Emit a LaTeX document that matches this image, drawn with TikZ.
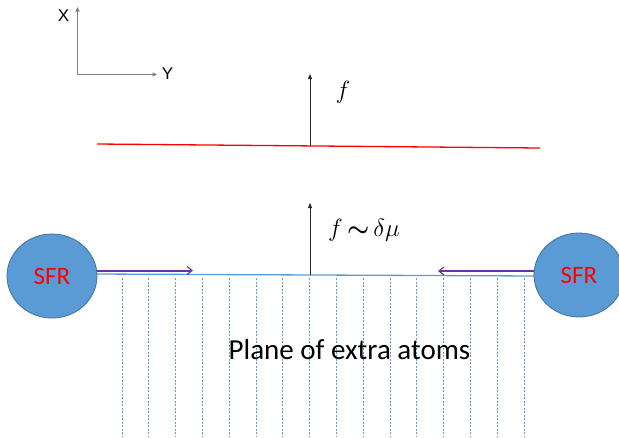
\documentclass[tikz,border=0pt]{standalone}
\usepackage{amsmath}
\usepackage{fontspec}
\setmainfont{Carlito}
\newfontfamily\arialf{Liberation Sans}
\usetikzlibrary{arrows.meta,shapes.geometric}
\definecolor{sfrblue}{HTML}{5B9BD5}
\definecolor{sfredge}{HTML}{41719C}
\definecolor{purp}{HTML}{7030A0}
\definecolor{axgray}{HTML}{808080}
\tikzset{
  axisarrow/.style={draw=axgray, line width=1.1pt, -{Triangle[length=4.5pt,width=4pt]}},
  forcearrow/.style={draw=black!85, line width=0.9pt, -{Triangle[length=5pt,width=4pt]}},
  sfr/.style={ellipse, draw=sfredge, line width=0.8pt, fill=sfrblue, minimum width=90pt, minimum height=84pt, inner sep=0pt, text=red, font=\fontsize{25}{30}\selectfont},
  glide/.style={draw=purp, line width=2pt, -{Straight Barb[length=5pt,width=8pt,line width=1.2pt]}},
  atomline/.style={draw=sfrblue, line width=0.8pt, dash pattern=on 2pt off 1.5pt},
  lbl/.style={inner sep=0pt, font=\fontsize{29}{34}\selectfont},
  mathlbl/.style={inner sep=0pt, font=\fontsize{25}{30}\selectfont},
  axlbl/.style={inner sep=0pt, font=\arialf\fontsize{17}{20}\selectfont}
}
\begin{document}
\begin{tikzpicture}[x=1pt,y=-1pt]
\useasboundingbox (0,0) rectangle (619,437);
% axes
\coordinate (o) at (77.5,74.5);
\coordinate (xt) at (77.5,7);
\coordinate (yt) at (157,74.5);
\draw[axisarrow] (o) -- (xt);
\draw[axisarrow] (o) -- (yt);
\node[axlbl] (xl) at (63.5,16) {X};
\node[axlbl] (yl) at (167.5,74) {Y};
% red line and force
\coordinate (r1) at (97,144);
\coordinate (r2) at (540,148);
\draw[red, line width=1.3pt] (r1) -- (r2);
\coordinate (fb) at (310,145.5);
\coordinate (ft) at (310,74);
\draw[forcearrow] (fb) -- (ft);
\node[mathlbl] (fl) at (343,92) {$f$};
% dotted atom lines
\foreach \i in {0,...,15} {
  \coordinate (d\i t) at ({122+26.8*\i},278);
  \coordinate (d\i b) at ({122+26.8*\i},436);
  \draw[atomline] (d\i t) -- (d\i b);
}
% blue plane line
\coordinate (b1) at (95,274);
\coordinate (b2) at (536,276);
\draw[sfrblue, line width=1.3pt] (b1) -- (b2);
\coordinate (gb) at (310,275);
\coordinate (gt) at (310,203);
\draw[forcearrow] (gb) -- (gt);
\node[mathlbl, font=\fontsize{23}{28}\selectfont] (gl) at (364,230) {$f\,{\boldsymbol{\sim}}\,\delta\mu$};
% SFRs
\node[sfr] (sl) at (52,276) {SFR};
\node[sfr] (sr) at (579,275) {SFR};
% purple glide arrows
\coordinate (pl1) at (97,270.5);
\coordinate (pl2) at (193,270.5);
\draw[glide] (pl1) -- (pl2);
\coordinate (pr1) at (534,271);
\coordinate (pr2) at (438,271);
\draw[glide] (pr1) -- (pr2);
% label
\node[lbl] (pl) at (349.5,350) {Plane of extra atoms};
\end{tikzpicture}
\end{document}
